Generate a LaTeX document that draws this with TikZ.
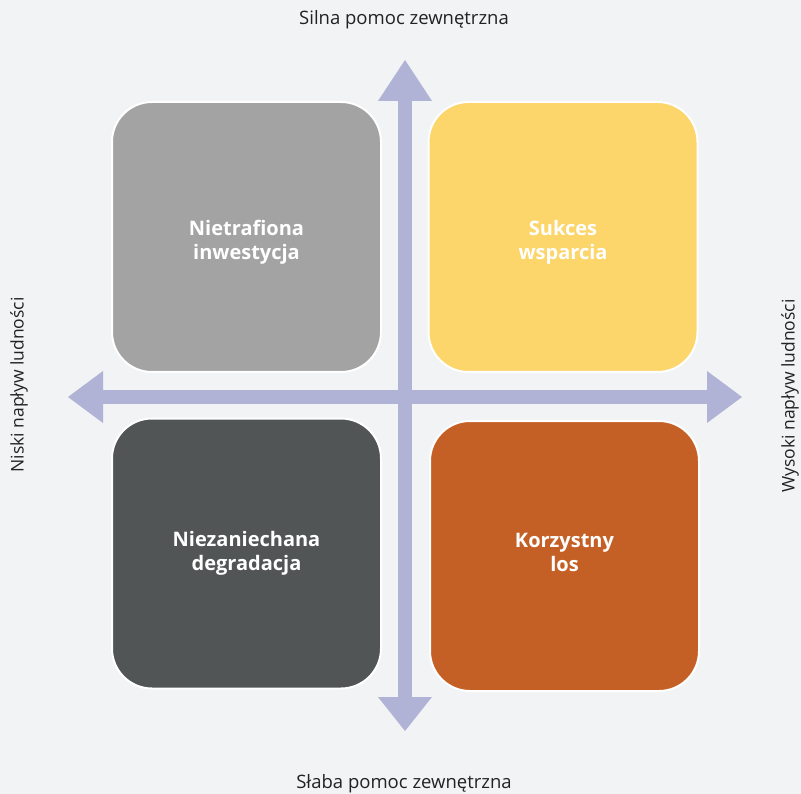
\documentclass[tikz,border=0pt]{standalone}
\usepackage{fontspec}
\setmainfont{Open Sans}
\definecolor{bg}{HTML}{F2F3F5}
\definecolor{axis}{HTML}{B0B3D6}
\definecolor{cgray}{HTML}{A3A3A3}
\definecolor{cyellow}{HTML}{FCD56B}
\definecolor{cdark}{HTML}{515555}
\definecolor{corange}{HTML}{C46025}
\definecolor{ltext}{HTML}{222222}
\newcommand{\quadtext}[2]{\raisebox{#1}[\height][\depth]{\begin{tabular}{@{}c@{}}#2\end{tabular}}}
\tikzset{
  quad/.style={draw=white, line width=2pt, rounded corners=40pt, minimum width=269pt, minimum height=270pt, inner sep=0pt,
    text=white, align=center, font=\fontsize{20}{24}\selectfont\bfseries},
  axislabel/.style={text=ltext, font=\fontsize{18.5}{20}\selectfont, inner sep=0pt},
  sidelabel/.style={axislabel, font=\fontsize{17.5}{20}\selectfont, rotate=90},
  axisfill/.style={fill=axis, draw=none}
}
\begin{document}
\begin{tikzpicture}[x=1pt,y=-1pt]
\fill[bg] (0,0) rectangle (801,794);
\useasboundingbox (0,0) rectangle (801,794);
% axes
\fill[axisfill] (398,100) rectangle (412,697);
\fill[axisfill] (102,390) rectangle (707,404);
\coordinate (top) at (405,60);
\coordinate (bottom) at (405,731);
\coordinate (left) at (68,397);
\coordinate (right) at (742,397);
\fill[axisfill] (top) -- (432,101) -- (378,101) -- cycle;
\fill[axisfill] (bottom) -- (432,697) -- (378,697) -- cycle;
\fill[axisfill] (left) -- (103,371) -- (103,423) -- cycle;
\fill[axisfill] (right) -- (707,371) -- (707,423) -- cycle;
% quadrants
\node[quad, fill=cgray] (q1) at (246.5,237) {\quadtext{-6pt}{Nietrafiona\\inwestycja}};
\node[quad, fill=cyellow] (q2) at (563,237) {\quadtext{-6pt}{Sukces\\wsparcia}};
\node[quad, fill=cdark] (q3) at (246.5,553.5) {\quadtext{0pt}{Niezaniechana\\degradacja}};
\node[quad, fill=corange] (q4) at (564.5,556) {\quadtext{1pt}{Korzystny\\los}};
% labels
\node[axislabel] (ltop) at (404,20) {Silna pomoc zewnętrzna};
\node[axislabel] (lbot) at (404,784) {Słaba pomoc zewnętrzna};
\node[sidelabel] (lleft) at (19,385) {Niski napływ ludności};
\node[sidelabel] (lright) at (790,396) {Wysoki napływ ludności};
\end{tikzpicture}
\end{document}
